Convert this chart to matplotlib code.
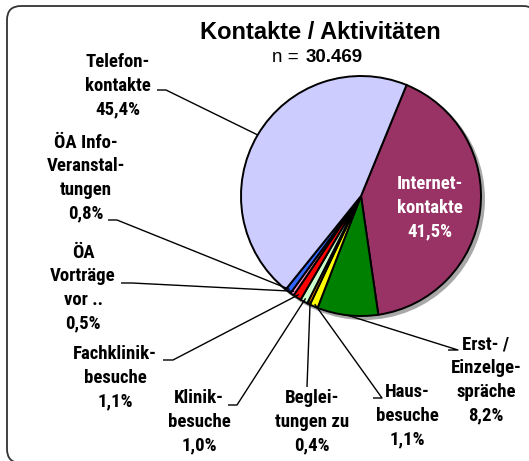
import numpy as np
import matplotlib
matplotlib.use("Agg")
import matplotlib.pyplot as plt
from matplotlib import font_manager
from matplotlib.patches import FancyBboxPatch, Circle

# ---- data (clockwise from the top-right) ----
categories = ["Internet-\nkontakte", "Erst- /\nEinzelge-\nspräche", "Haus-\nbesuche",
              "Beglei-\ntungen zu", "Klinik-\nbesuche", "Fachklinik-\nbesuche",
              "ÖA\nVorträge\nvor ..", "ÖA Info-\nVeranstal-\ntungen", "Telefon-\nkontakte"]
shares = [41.5, 8.2, 1.1, 0.4, 1.0, 1.1, 0.5, 0.8, 45.4]
pct_labels = ["41,5%", "8,2%", "1,1%", "0,4%", "1,0%", "1,1%", "0,5%", "0,8%", "45,4%"]
colors = ["#993366", "#008000", "#FFFF00", "#FF9900", "#CCFFCC", "#FF0000",
          "#FF99CC", "#3366FF", "#CCCCFF"]
title = "Kontakte / Aktivitäten"
n_total = "30.469"

W, H = 529, 461
fig = plt.figure(figsize=(W / 100, H / 100), dpi=100)
ax = fig.add_axes([0, 0, 1, 1])

def Y(y):
    return H - y

names = {f.name for f in font_manager.fontManager.ttflist}
lab_family = [f for f in ("Roboto Condensed", "Archivo Narrow", "Liberation Sans") if f in names] + ["DejaVu Sans"]

# border
ax.add_patch(FancyBboxPatch((7, Y(463)), 530, 457,
                            boxstyle="round,pad=0,rounding_size=14",
                            fc="white", ec="#333333", lw=1.3, zorder=0))

cx, cy, R = 361, 196, 120
start = 67.7
# shadow
ax.add_patch(Circle((cx + 3, Y(cy) - 3), R + 1, fc="#a8a8a8", ec="none", zorder=1))
wedges, _ = ax.pie(shares, colors=colors, startangle=start, counterclock=False,
                   center=(cx, Y(cy)), radius=R, frame=True,
                   wedgeprops=dict(edgecolor="black", linewidth=1.4, zorder=2))
ax.set_xlim(0, W)
ax.set_ylim(0, H)
ax.set_aspect("equal")
ax.axis("off")

# mid angles
cum = np.cumsum([0] + shares[:-1])
mids = [start - (c + s / 2) * 3.6 for c, s in zip(cum, shares)]

# label layout: (text x, text center y, elbow pts (pixel coords), edge radius factor)
layout = {
    1: (486, 380, [(458, 350), (448, 350)], 1.0),
    2: (407, 416, [(382, 398), (373, 398)], 0.98),
    3: (312, 422, [(307, 387)], 0.97),
    4: (199, 422, [(237, 405), (228, 405)], 0.97),
    5: (115, 378, [(173, 360), (163, 360)], 0.97),
    6: (83, 288, [(132, 283), (121, 283)], 0.97),
    7: (86, 178, [(117, 220), (108, 220)], 0.98),
    8: (118, 86, [(166, 90), (157, 90)], 1.0),
}
fs = 13.5
ls = 1.4
for i, (tx, ty, pts, rr) in layout.items():
    a = np.deg2rad(mids[i])
    ex, ey = cx + R * rr * np.cos(a), Y(cy) + R * rr * np.sin(a)
    xs = [ex] + [p[0] for p in pts]
    ys = [ey] + [Y(p[1]) for p in pts]
    ax.plot(xs, ys, color="black", lw=1.0, zorder=3, solid_capstyle="butt")
    ax.text(tx, Y(ty), categories[i] + "\n" + pct_labels[i], ha="center", va="center",
            multialignment="center", fontsize=fs, fontweight=800,
            family=lab_family, linespacing=ls, zorder=4)

# inside label
ax.text(430, Y(208), categories[0] + "\n" + pct_labels[0], ha="center", va="center",
        multialignment="center", fontsize=fs, fontweight=800, color="white",
        family=lab_family, linespacing=ls, zorder=4)

ax.text(320, Y(33), title, ha="center", va="center", fontsize=17, fontweight="bold",
        family=["Liberation Sans"])
ax.text(299, Y(58), "n =", ha="right", va="center", fontsize=13.5, family=["Liberation Sans"])
ax.text(306, Y(58), n_total, ha="left", va="center", fontsize=13.5, fontweight="bold",
        family=["Liberation Sans"])

fig.savefig("out.png", dpi=100)
